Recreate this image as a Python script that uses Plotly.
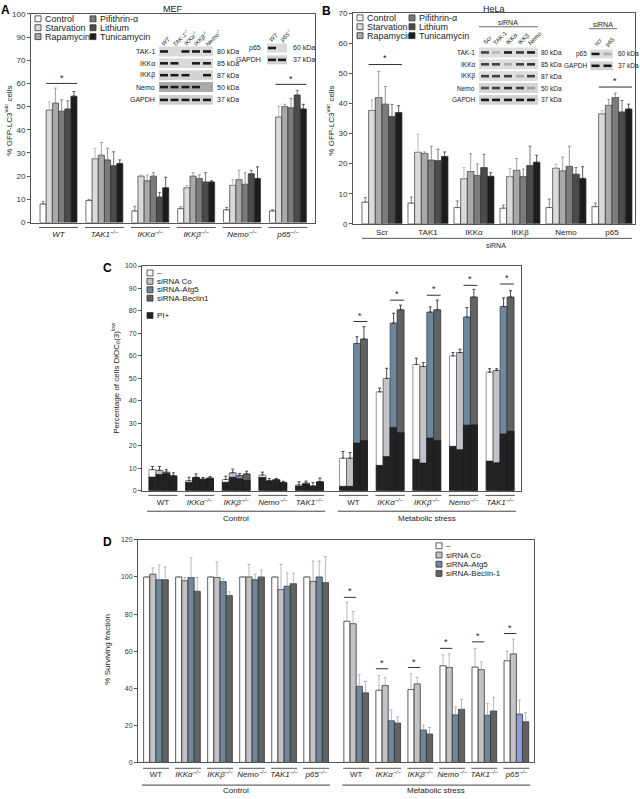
import math
import plotly.graph_objects as go

W, H = 640, 799
FONT = "Arial, Liberation Sans, Helvetica, sans-serif"
TXT = "#222222"


def px(x):
    return x / W


def py(y):
    return 1 - y / H


# ---------------- Panel A (MEF) ----------------
a_groups = ["<i>WT</i>", "<i>TAK1<sup>−/−</sup></i>", "<i>IKKα<sup>−/−</sup></i>",
            "<i>IKKβ<sup>−/−</sup></i>", "<i>Nemo<sup>−/−</sup></i>", "<i>p65<sup>−/−</sup></i>"]
a_series = ["Control", "Starvation", "Rapamycin", "Pifithrin-α", "Lithium", "Tunicamycin"]
a_control = [8.0, 9.5, 5.0, 6.0, 5.5, 5.0]
a_control_err = [1.0, 0.5, 2.0, 0.8, 1.0, 0.5]
a_starvation = [48.5, 27.5, 20.0, 15.0, 16.0, 45.5]
a_starvation_err = [3.5, 4.5, 0.5, 1.0, 2.5, 4.5]
a_rapamycin = [51.5, 29.0, 18.0, 20.0, 18.5, 50.0]
a_rapamycin_err = [6.5, 5.5, 2.5, 1.5, 4.0, 1.0]
a_pifithrin = [48.0, 27.0, 20.0, 19.0, 16.5, 49.5]
a_pifithrin_err = [5.0, 5.0, 1.5, 1.5, 5.0, 4.0]
a_lithium = [49.0, 24.5, 11.0, 17.5, 21.0, 55.0]
a_lithium_err = [3.5, 6.0, 2.0, 4.0, 1.5, 2.0]
a_tunicamycin = [54.5, 25.5, 15.0, 17.5, 19.0, 49.0]
a_tunicamycin_err = [2.0, 1.5, 4.5, 0.5, 5.0, 2.0]
a_sig = [60.0, None, None, None, None, 59.6]
a_ytickvals = [0, 10, 20, 30, 40, 50, 60, 70, 80, 90]
a_yticktext = ["0", "10", "20", "30", "40", "50", "60", "70", "90", "100"]

# ---------------- Panel B (HeLa) ----------------
b_groups = ["Scr", "TAK1", "IKKα", "IKKβ", "Nemo", "p65"]
b_control = [7.2, 6.9, 5.4, 5.2, 5.4, 5.7]
b_control_err = [1.5, 2.0, 2.2, 1.0, 2.8, 1.2]
b_starvation = [37.7, 23.8, 15.0, 15.7, 18.5, 36.6]
b_starvation_err = [3.5, 6.0, 3.7, 2.7, 1.3, 1.0]
b_rapamycin = [42.0, 23.4, 17.4, 17.8, 17.6, 39.4]
b_rapamycin_err = [8.7, 0.5, 5.9, 3.9, 4.6, 2.0]
b_pifithrin = [39.8, 21.2, 16.1, 15.7, 19.1, 42.0]
b_pifithrin_err = [5.9, 4.6, 3.8, 2.5, 6.7, 1.5]
b_lithium = [35.7, 21.0, 18.7, 19.4, 16.5, 37.2]
b_lithium_err = [4.0, 3.8, 4.4, 6.4, 2.2, 3.8]
b_tunicamycin = [37.0, 22.4, 15.8, 20.5, 15.1, 38.2]
b_tunicamycin_err = [2.3, 1.5, 1.2, 2.3, 3.9, 1.6]
b_sig = [53.0, None, None, None, None, 45.5]

# ---------------- Panel C (DiOC6(3) low) ----------------
c_groups = ["WT", "<i>IKKα<sup>−/−</sup></i>", "<i>IKKβ<sup>−/−</sup></i>",
            "<i>Nemo<sup>−/−</sup></i>", "<i>TAK1<sup>−/−</sup></i>"] * 2
c_series = ["–", "siRNA Co", "siRNA-Atg5", "siRNA-Beclin1"]
c_none = [9.4, 4.5, 5.0, 7.0, 2.6, 14.5, 44.0, 56.2, 60.0, 52.8]
c_none_err = [1.4, 1.5, 1.5, 1.3, 1.4, 3.0, 1.7, 2.8, 1.5, 1.5]
c_none_pi = [6.1, 3.8, 3.8, 6.0, 2.1, 2.0, 11.3, 14.0, 19.8, 13.2]
c_co = [9.1, 6.0, 8.0, 4.5, 3.4, 14.5, 50.0, 55.3, 61.5, 53.5]
c_co_err = [1.7, 1.5, 1.6, 0.9, 0.9, 2.5, 4.5, 1.7, 1.5, 0.8]
c_co_pi = [7.2, 5.8, 6.0, 4.3, 3.0, 2.0, 15.2, 12.3, 18.3, 12.5]
c_atg5 = [8.3, 5.2, 6.8, 5.0, 2.1, 65.5, 74.6, 79.5, 77.3, 82.0]
c_atg5_err = [1.1, 0.7, 0.9, 0.5, 1.6, 3.0, 4.4, 2.3, 4.2, 3.8]
c_atg5_pi = [7.6, 5.0, 5.3, 4.7, 2.0, 21.2, 28.2, 23.5, 29.2, 25.3]
c_beclin = [6.7, 5.7, 7.5, 3.7, 4.0, 67.5, 80.5, 80.5, 86.2, 86.2]
c_beclin_err = [1.3, 0.6, 1.2, 0.5, 1.7, 5.5, 2.1, 4.3, 3.4, 2.8]
c_beclin_pi = [6.4, 5.3, 4.6, 3.5, 3.9, 22.3, 25.8, 22.3, 29.3, 26.5]
c_sig = [None, None, None, None, None, 75.3, 84.8, 87.0, 91.4, 92.0]

# ---------------- Panel D (survival) ----------------
d_groups = ["WT", "<i>IKKα<sup>−/−</sup></i>", "<i>IKKβ<sup>−/−</sup></i>",
            "<i>Nemo<sup>−/−</sup></i>", "<i>TAK1<sup>−/−</sup></i>", "<i>p65<sup>−/−</sup></i>"] * 2
d_series = ["–", "siRNA Co", "siRNA-Atg5", "siRNA-Beclin-1"]
d_none = [100, 100, 100, 100, 100, 100, 76.1, 38.9, 39.3, 52.1, 51.4, 54.8]
d_none_err = [0, 0, 0, 0, 0, 0, 10.3, 7.9, 8.5, 5.9, 10.1, 5.3]
d_co = [101.5, 98.0, 99.7, 100.0, 93.2, 97.6, 74.8, 41.4, 42.3, 51.2, 50.0, 58.5]
d_co_err = [3.4, 1.7, 8.3, 6.8, 13.6, 11.0, 6.6, 4.5, 3.6, 7.3, 4.2, 8.0]
d_atg5 = [98.5, 99.7, 97.5, 98.5, 95.0, 100.0, 41.0, 22.4, 17.4, 25.6, 25.4, 26.0]
d_atg5_err = [8.0, 10.7, 1.5, 3.0, 7.2, 8.6, 6.3, 5.9, 2.7, 4.3, 6.4, 7.6]
d_beclin = [98.5, 92.3, 90.0, 100.0, 96.4, 97.0, 37.5, 21.2, 15.3, 28.6, 27.7, 21.9]
d_beclin_err = [6.9, 7.4, 2.0, 3.8, 5.6, 14.0, 6.2, 3.3, 3.5, 5.4, 7.5, 4.9]
d_sig = [None] * 6 + [89.0, 50.5, 51.2, 61.5, 65.0, 69.5]

# ---------------- styles ----------------
treat_colors = ["#ffffff", "#dadada", "#a9a9a9", "#7b7b7b", "#4b4b4b", "#1c1c1c"]
treat_err = ["#666666", "#aaaaaa", "#8a8a8a", "#777777", "#555555", "#333333"]
si_colors = ["#ffffff", "#c3c3c7", "#6d879d", "#626262"]
si_lines = ["#777777", "#555555", "#3b4a57", "#333333"]
PI_COLOR = "#222222"

fig = go.Figure()
shapes = []
annots = []


def add_bars(xa, ya, pos, vals_list, errs_list, colors, lcolors, ecolors, gw, lw=0.7, ew=0.8):
    n = len(vals_list)
    w = gw / n
    for j, (vals, errs) in enumerate(zip(vals_list, errs_list)):
        fig.add_trace(go.Bar(
            x=pos, y=vals, width=w, offset=-gw / 2 + j * w, xaxis=xa, yaxis=ya,
            marker=dict(color=colors[j], line=dict(color=lcolors[j], width=lw)),
            error_y=dict(type="data", array=errs, arrayminus=[0] * len(errs), symmetric=False,
                         color=ecolors[j], thickness=ew, width=1.5),
            showlegend=False, hoverinfo="skip"))
    return w


def sig_marks(xref, yref, pos, sig, gw, first, last, n, dy, lc="#333333"):
    w = gw / n
    for p, s in zip(pos, sig):
        if s is None:
            continue
        x0 = p - gw / 2 + first * w
        x1 = p - gw / 2 + (last + 1) * w
        shapes.append(dict(type="line", xref=xref, yref=yref, x0=x0, x1=x1, y0=s, y1=s,
                           line=dict(color=lc, width=1)))
        annots.append(dict(xref=xref, yref=yref, x=(x0 + x1) / 2, y=s + dy, text="*",
                           showarrow=False, font=dict(size=9, color=TXT, family=FONT),
                           xanchor="center", yanchor="middle"))


def underlines(xref, pos, gw, ypix, color="#555555"):
    for p in pos:
        shapes.append(dict(type="line", xref=xref, yref="paper", x0=p - gw / 2 - 0.02, x1=p + gw / 2 + 0.02,
                           y0=py(ypix), y1=py(ypix), line=dict(color=color, width=1)))


def legend_box(x, y, color, text, size=6, fs=9, lc="#333333"):
    shapes.append(dict(type="rect", xref="paper", yref="paper", x0=px(x), x1=px(x + size),
                       y0=py(y + size / 2), y1=py(y - size / 2), fillcolor=color,
                       line=dict(color=lc, width=0.8)))
    annots.append(dict(xref="paper", yref="paper", x=px(x + size + 1.5), y=py(y), text=text,
                       showarrow=False, xanchor="left", yanchor="middle",
                       font=dict(size=fs, color=TXT, family=FONT)))


def text(x, y, t, fs=8, xanchor="center", angle=0, bold=False, color=TXT):
    if bold:
        t = "<b>" + t + "</b>"
    annots.append(dict(xref="paper", yref="paper", x=px(x), y=py(y), text=t, showarrow=False,
                       xanchor=xanchor, yanchor="middle", textangle=angle,
                       font=dict(size=fs, color=color, family=FONT)))


def blot(x0, x1, rows, lanes, names, kdas, intens, bgs, label_x, kda_x, headers, header_y, hlen, fs=7):
    for (r0, r1), name, kda, inten, bg in zip(rows, names, kdas, intens, bgs):
        shapes.append(dict(type="rect", xref="paper", yref="paper", x0=px(x0), x1=px(x1),
                           y0=py(r1), y1=py(r0), fillcolor=bg, line=dict(width=0)))
        mid = (r0 + r1) / 2
        for lx, it in zip(lanes, inten):
            if it <= 0:
                continue
            shapes.append(dict(type="rect", xref="paper", yref="paper", x0=px(lx - 4), x1=px(lx + 4),
                               y0=py(mid + 1.3), y1=py(mid - 1.3),
                               fillcolor="rgba(25,25,25,%.2f)" % it, line=dict(width=0)))
        text(label_x, mid, name, fs=fs, xanchor="right")
        text(kda_x, mid, kda, fs=fs, xanchor="left")
    for lx, h, L in zip(lanes, headers, hlen):
        c = math.cos(math.radians(45))
        cx = lx + L / 2 * c - 1
        cy = header_y - L / 2 * c
        text(cx, cy, h, fs=6, angle=-45)


# ---------------- Panel A ----------------
a_pos = list(range(len(a_groups)))
a_gw = 0.806
add_bars("x", "y", a_pos,
         [a_control, a_starvation, a_rapamycin, a_pifithrin, a_lithium, a_tunicamycin],
         [a_control_err, a_starvation_err, a_rapamycin_err, a_pifithrin_err, a_lithium_err, a_tunicamycin_err],
         treat_colors, ["#333333"] * 6, treat_err, a_gw)
sig_marks("x", "y", a_pos, a_sig, a_gw, 1, 5, 6, 2.2)
underlines("x", a_pos, a_gw, 226)

# ---------------- Panel B ----------------
b_pos = list(range(len(b_groups)))
b_gw = 0.87
add_bars("x2", "y2", b_pos,
         [b_control, b_starvation, b_rapamycin, b_pifithrin, b_lithium, b_tunicamycin],
         [b_control_err, b_starvation_err, b_rapamycin_err, b_pifithrin_err, b_lithium_err, b_tunicamycin_err],
         treat_colors, ["#333333"] * 6, treat_err, b_gw)
sig_marks("x2", "y2", b_pos, b_sig, b_gw, 1, 5, 6, 2.0)
shapes.append(dict(type="line", xref="x2", yref="paper", x0=b_pos[0] - b_gw / 2, x1=b_pos[-1] + b_gw / 2,
                   y0=py(237), y1=py(237), line=dict(color="#555555", width=1)))
text(496, 244, "siRNA", fs=7)

# ---------------- Panel C ----------------
c_pos = [i + (0.2 if i >= 5 else 0) for i in range(len(c_groups))]
c_gw = 0.76
c_w = c_gw / 4
for j, (tot, err, pi) in enumerate([(c_none, c_none_err, c_none_pi), (c_co, c_co_err, c_co_pi),
                                     (c_atg5, c_atg5_err, c_atg5_pi), (c_beclin, c_beclin_err, c_beclin_pi)]):
    fig.add_trace(go.Bar(
        x=c_pos, y=tot, width=c_w, offset=-c_gw / 2 + j * c_w, xaxis="x3", yaxis="y3",
        marker=dict(color=si_colors[j], line=dict(color=si_lines[j], width=0.8)),
        error_y=dict(type="data", array=err, arrayminus=[0] * len(err), symmetric=False,
                     color="#333333", thickness=0.9, width=1.5),
        showlegend=False, hoverinfo="skip"))
    fig.add_trace(go.Bar(
        x=c_pos, y=pi, width=c_w, offset=-c_gw / 2 + j * c_w, xaxis="x3", yaxis="y3",
        marker=dict(color=PI_COLOR, line=dict(color="#111111", width=0.6)),
        showlegend=False, hoverinfo="skip"))
sig_marks("x3", "y3", c_pos, c_sig, c_gw, 2, 3, 4, 2.6)
underlines("x3", c_pos, c_gw, 497)
for lo, hi, lab in [(0, 4, "Control"), (5, 9, "Metabolic stress")]:
    shapes.append(dict(type="line", xref="x3", yref="paper", x0=c_pos[lo] - c_gw / 2 - 0.05,
                       x1=c_pos[hi] + c_gw / 2 + 0.05, y0=py(513), y1=py(513),
                       line=dict(color="#444444", width=1)))
    annots.append(dict(xref="x3", yref="paper", x=(c_pos[lo] + c_pos[hi]) / 2, y=py(520), text=lab,
                       showarrow=False, xanchor="center", yanchor="middle",
                       font=dict(size=8, color=TXT, family=FONT)))

# ---------------- Panel D ----------------
d_pos = [i + (0.25 if i >= 6 else 0) for i in range(len(d_groups))]
d_gw = 0.77
d_atg5_colors = [si_colors[2]] * 11 + ["#8c9be0"]
add_bars("x4", "y4", d_pos, [d_none, d_co, d_atg5, d_beclin],
         [d_none_err, d_co_err, d_atg5_err, d_beclin_err],
         [si_colors[0], si_colors[1], d_atg5_colors, si_colors[3]],
         ["#333333"] * 4, ["#8a8a8a"] * 4, d_gw, lw=0.8, ew=0.6)
sig_marks("x4", "y4", d_pos, d_sig, d_gw, 0, 1, 4, 3.2)
underlines("x4", d_pos, d_gw, 773)
for lo, hi, lab in [(0, 5, "Control"), (6, 11, "Metabolic stress")]:
    shapes.append(dict(type="line", xref="x4", yref="paper", x0=d_pos[lo] - d_gw / 2 - 0.05,
                       x1=d_pos[hi] + d_gw / 2 + 0.05, y0=py(790), y1=py(790),
                       line=dict(color="#444444", width=1)))
    annots.append(dict(xref="x4", yref="paper", x=(d_pos[lo] + d_pos[hi]) / 2, y=py(795.5), text=lab,
                       showarrow=False, xanchor="center", yanchor="middle",
                       font=dict(size=8, color=TXT, family=FONT)))

# ---------------- legends ----------------
for i, name in enumerate(a_series[:3]):
    legend_box(35, 15 + 9 * i, treat_colors[i], name)
for i, name in enumerate(a_series[3:]):
    legend_box(90, 15 + 9 * i, treat_colors[i + 3], name)
for i, name in enumerate(a_series[:3]):
    legend_box(357, 14 + 9 * i, treat_colors[i], name)
for i, name in enumerate(a_series[3:]):
    legend_box(409, 14 + 9 * i, treat_colors[i + 3], name)
for i, name in enumerate(c_series):
    legend_box(147, 272 + 8.5 * i, si_colors[i], name, size=6, fs=8)
legend_box(147, 315, PI_COLOR, "PI+", size=6, fs=8)
for i, name in enumerate(d_series):
    legend_box(436, 548 + 9.3 * i, si_colors[i], name, size=6, fs=8)

# ---------------- blots ----------------
rowsA = [(43, 53), (55, 65), (67, 77), (79, 89), (92, 102)]
blot(159, 213, rowsA, [164, 174.5, 185.5, 196, 207],
     ["TAK-1", "IKKα", "IKKβ", "Nemo", "GAPDH"],
     ["80 kDa", "85 kDa", "87 kDa", "50 kDa", "37 kDa"],
     [[1, 0, 1, 1, 1], [1, 1, 0, 1, 1], [1, 1, 1, 0, 1], [1, 1, 1, 1, 0], [1, 1, 1, 1, 1]],
     ["#d9d9d9", "#d9d9d9", "#d3d3d3", "#a9a9a9", "#d0d0d0"], 157, 215,
     ["<i>WT</i>", "<i>TAK-1<sup>-/-</sup></i>", "<i>IKKα<sup>-/-</sup></i>", "<i>IKKβ<sup>-/-</sup></i>",
      "<i>Nemo<sup>-/-</sup></i>"], 41, [9, 20, 18, 18, 20])
blot(267, 287, [(40, 49), (52, 61)], [272, 282], ["p65", "GAPDH"], ["60 kDa", "37 kDa"],
     [[1, 0], [1, 1]], ["#d9d9d9", "#d0d0d0"], 263, 291,
     ["<i>WT</i>", "<i>p65<sup>-/-</sup></i>"], 37, [9, 15])
rowsB = [(44, 54), (56, 66), (68, 78), (80, 90), (92, 102)]
blot(479, 538, rowsB, [485, 496, 508, 520, 531],
     ["TAK-1", "IKKα", "IKKβ", "Nemo", "GAPDH"],
     ["80 kDa", "85 kDa", "87 kDa", "50 kDa", "37 kDa"],
     [[0.8, 0.2, 1, 0.85, 1], [0.8, 0.8, 0.25, 0.8, 0.9], [0.8, 0.8, 0.8, 0.25, 0.8],
      [0.7, 0.8, 0.9, 0.8, 0.3], [1, 1, 1, 1, 1]],
     ["#dddddd", "#dddddd", "#dddddd", "#d5d5d5", "#d3d3d3"], 477, 539,
     ["Scr", "TAK-1", "IKKα", "IKKβ", "Nemo"], 40, [10, 15, 13, 13, 15], fs=6.5)
shapes.append(dict(type="line", xref="paper", yref="paper", x0=px(479), x1=px(538), y0=py(23), y1=py(23),
                   line=dict(color="#444444", width=0.8)))
text(508, 19, "siRNA", fs=7)
blot(590, 613, [(46, 55), (58, 67)], [595.5, 607.5], ["p65", "GAPDH"], ["60 kDa", "37 kDa"],
     [[1, 0.25], [1, 1]], ["#dddddd", "#d3d3d3"], 588.5, 616, ["scr", "p65"], 42, [10, 10], fs=6.5)
shapes.append(dict(type="line", xref="paper", yref="paper", x0=px(589), x1=px(617), y0=py(25), y1=py(25),
                   line=dict(color="#444444", width=0.8)))
text(603, 21, "siRNA", fs=7)

# ---------------- titles, panel letters, axis titles ----------------
text(173, 5, "MEF", fs=9)
text(494, 5, "HeLa", fs=9)
text(5, 6, "A", fs=12, bold=True, color="#000000")
text(326, 7, "B", fs=12, bold=True, color="#000000")
text(107, 267, "C", fs=12, bold=True, color="#000000")
text(107, 544, "D", fs=12, bold=True, color="#000000")
text(8, 118, "% GFP-LC3<sup>vac</sup> cells", fs=8, angle=-90)
text(330, 118, "% GFP-LC3<sup>vac</sup> cells", fs=8, angle=-90)
text(116, 378, "Percentage of cells DiOC<sub>6</sub>(3)<sup>low</sup>", fs=8, angle=-90)
text(108, 653, "% Surviving fraction", fs=8, angle=-90)

# ---------------- axes ----------------
AX = dict(showline=True, linecolor="#555555", linewidth=1, mirror=True, showgrid=False,
          zeroline=False, fixedrange=True)


def xax(domain, rng, pos, labels, fs, standoff):
    return dict(AX, domain=domain, range=rng, tickmode="array", tickvals=pos, ticktext=labels,
                ticks="", tickfont=dict(size=fs, color=TXT, family=FONT), ticklabelstandoff=standoff)


def yax(domain, rng, anchor, tickvals, ticktext, fs):
    return dict(AX, domain=domain, range=rng, anchor=anchor, tickmode="array", tickvals=tickvals,
                ticktext=ticktext, ticks="outside", ticklen=3, tickcolor="#555555",
                tickfont=dict(size=fs, color="#333333", family=FONT))


fig.update_layout(
    width=W, height=H, margin=dict(l=0, r=0, t=0, b=0, pad=0),
    paper_bgcolor="white", plot_bgcolor="white", barmode="overlay", showlegend=False,
    font=dict(family=FONT, color=TXT),
    xaxis=xax([px(31), px(315)], [-0.6, 5.59], a_pos, a_groups, 8, 4),
    yaxis=yax([py(221), py(10)], [0, 90], "x", a_ytickvals, a_yticktext, 8),
    xaxis2=xax([px(353), px(635)], [-0.63, 5.5], b_pos, b_groups, 8, 1),
    yaxis2=yax([py(222.3), py(9.5)], [0, 70], "x2", list(range(0, 71, 10)),
               [str(v) for v in range(0, 71, 10)], 8),
    xaxis3=xax([px(142), px(521)], [-0.57, 9.77], c_pos, c_groups, 8, 4),
    yaxis3=yax([py(492.3), py(265)], [0, 100], "x3", list(range(0, 101, 10)),
               [str(v) for v in range(0, 101, 10)], 7),
    xaxis4=xax([px(138), px(534)], [-0.56, 11.8], d_pos, d_groups, 8, 4),
    yaxis4=yax([py(767), py(542)], [0, 120], "x4", list(range(0, 121, 20)),
               [str(v) for v in range(0, 121, 20)], 7),
    shapes=shapes, annotations=annots,
)
fig.update_layout(xaxis=dict(anchor="y"), xaxis2=dict(anchor="y2"), xaxis3=dict(anchor="y3"),
                  xaxis4=dict(anchor="y4"))

fig.write_html("out.html", config={"displayModeBar": False, "staticPlot": True},
               post_script="document.body.style.margin='0px';")
